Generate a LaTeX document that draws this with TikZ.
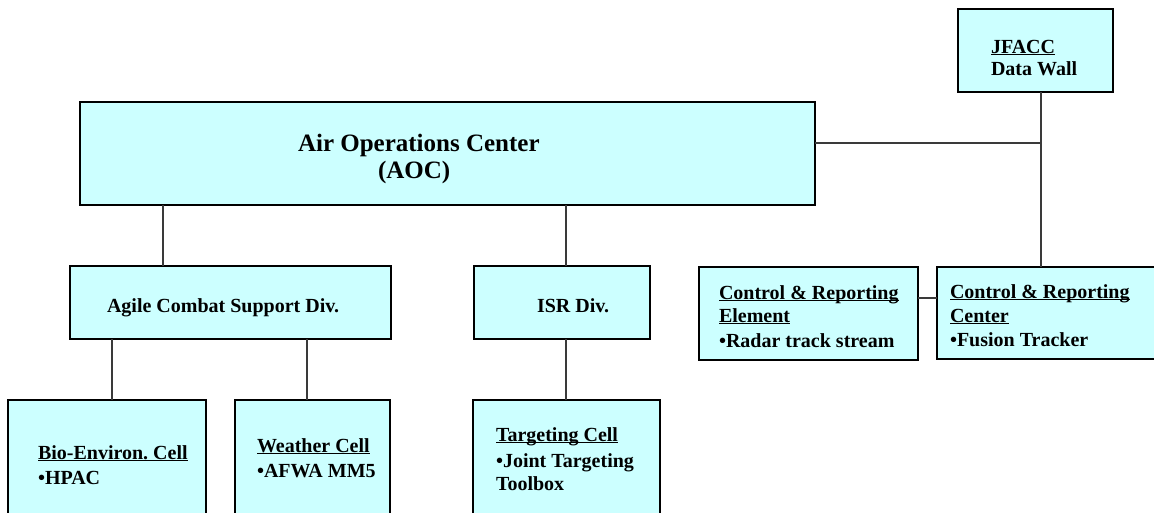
\documentclass[tikz,border=0pt]{standalone}
\usepackage{fontspec}
\setmainfont{Liberation Serif}
\frenchspacing
\newsavebox{\myulbox}
\newcommand{\myul}[1]{\sbox{\myulbox}{#1}\rlap{\rule[-2.2pt]{\wd\myulbox}{1.1pt}}\usebox{\myulbox}}
\definecolor{boxfill}{HTML}{CCFFFF}
\definecolor{linegray}{HTML}{3A3A3A}
\tikzset{
  box/.style={draw=black, line width=2.8pt, fill=boxfill, rectangle, inner sep=0pt, outer sep=0pt, anchor=north west},
  conn/.style={draw=linegray, line width=1.5pt},
  txt/.style={anchor=base west, inner sep=0pt, outer sep=0pt, font=\bfseries\fontsize{20}{24}\selectfont\frenchspacing},
  bigtxt/.style={txt, font=\bfseries\fontsize{25}{30}\selectfont},
}
\begin{document}
\begin{tikzpicture}[x=1pt, y=-1pt]
\useasboundingbox (0,0) rectangle (1154,512);
\clip (0,0) rectangle (1154,512);

% boxes
\node[box, minimum width=155pt, minimum height=83pt] (jfacc) at (958,9) {};
\node[box, minimum width=735pt, minimum height=103pt] (aoc) at (80,102) {};
\node[box, minimum width=321pt, minimum height=73pt] (acs) at (70,266) {};
\node[box, minimum width=176pt, minimum height=73pt] (isr) at (474,266) {};
\node[box, minimum width=219pt, minimum height=93pt] (cre) at (699,267) {};
\node[box, minimum width=240pt, minimum height=92pt] (crc) at (937,267) {};
\node[box, minimum width=198pt, minimum height=140pt] (bio) at (8,400) {};
\node[box, minimum width=155pt, minimum height=140pt] (wx) at (235,400) {};
\node[box, minimum width=187pt, minimum height=140pt] (tgt) at (473,400) {};

% connector positions
\coordinate (jx) at (1041,143);
\coordinate (cx) at (918,298);
\coordinate (x1) at (163,0);
\coordinate (x2) at (566,0);
\coordinate (x3) at (112,0);
\coordinate (x4) at (307,0);

% connectors
\draw[conn] (aoc.east |- jx) -- (jx);
\draw[conn] (jx |- jfacc.south) -- (jx |- crc.north);
\draw[conn] (cre.east |- cx) -- (crc.west |- cx);
\draw[conn] (aoc.south -| x1) -- (acs.north -| x1);
\draw[conn] (aoc.south -| x2) -- (isr.north -| x2);
\draw[conn] (acs.south -| x3) -- (bio.north -| x3);
\draw[conn] (acs.south -| x4) -- (wx.north -| x4);
\draw[conn] (isr.south -| x2) -- (tgt.north -| x2);

% texts
\node[txt] (jfacc1) at (991,53) {\myul{JFACC}};
\node[txt] (jfacc2) at (991,75) {Data Wall};

\node[bigtxt] (aoc1) at (298,151) {Air Operations Center};
\node[bigtxt] (aoc2) at (378,178) {(AOC)};

\node[txt] (acs1) at (107,312) {Agile Combat Support Div.};
\node[txt] (isr1) at (537,312) {ISR Div.};

\node[txt] (cre1) at (719,299) {\myul{Control \& Reporting}};
\node[txt] (cre2) at (719,322) {\myul{Element}};
\node[txt] (cre3) at (719,347) {•Radar track stream};

\node[txt] (crc1) at (950,298) {\myul{Control \& Reporting}};
\node[txt] (crc2) at (950,322) {\myul{Center}};
\node[txt] (crc3) at (950,346) {•Fusion Tracker};

\node[txt] (bio1) at (38,459) {\myul{Bio-Environ. Cell}};
\node[txt] (bio2) at (38,484) {•HPAC};

\node[txt] (wx1) at (257,452) {\myul{Weather Cell}};
\node[txt] (wx2) at (257,477) {•AFWA MM5};

\node[txt] (tgt1) at (496,441) {\myul{Targeting Cell}};
\node[txt] (tgt2) at (496,467) {•Joint Targeting};
\node[txt] (tgt3) at (496,490) {Toolbox};
\end{tikzpicture}
\end{document}
